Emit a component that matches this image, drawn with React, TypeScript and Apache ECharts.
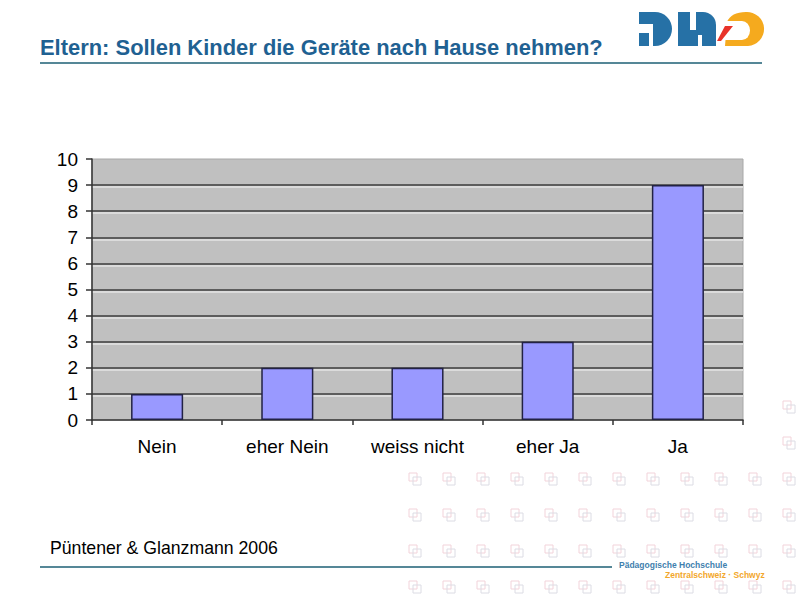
import React, { useEffect, useRef } from "react";
import * as echarts from "echarts";

const categories = ["Nein", "eher Nein", "weiss nicht", "eher Ja", "Ja"];
const values = [1, 2, 2, 3, 9];
const yMin = 0;
const yMax = 10;
const yInterval = 1;

const titleText = "Eltern: Sollen Kinder die Geräte nach Hause nehmen?";
const sourceText = "Püntener & Glanzmann 2006";
const schoolLine1 = "Pädagogische Hochschule";
const schoolLine2 = "Zentralschweiz · Schwyz";

const wmCols = [415, 449, 483, 517, 551, 585, 619, 653, 687, 721, 755, 789];
const wmRows = [408, 444, 480, 516, 552, 588];

let shapesRegistered = false;
function registerShapes() {
  if (shapesRegistered) return;
  shapesRegistered = true;
  echarts.graphic.registerShape(
    "logoP",
    echarts.graphic.extendPath("M639,12 L655,12 A17,17 0 0 1 655,46 L639,46 Z", {})
  );
  echarts.graphic.registerShape(
    "logoH",
    echarts.graphic.extendPath("M678,12 L703,12 A13,13 0 0 1 716,25 L716,46 L678,46 Z", {})
  );
  echarts.graphic.registerShape(
    "logoZ",
    echarts.graphic.extendPath("M727,22 Q731,12 746,12 A17,17 0 0 1 748,46 L725,46 Z", {})
  );
  echarts.graphic.registerShape(
    "logoZin",
    echarts.graphic.extendPath("M720,21 L742,21 A8,9.5 0 0 1 742,40 L720,40 Z", {})
  );
}

function measure(text: string, font: string): number {
  const ctx = document.createElement("canvas").getContext("2d");
  if (!ctx) return 1;
  ctx.font = font;
  return ctx.measureText(text).width || 1;
}

export default function App() {
  const ref = useRef<HTMLDivElement>(null);
  useEffect(() => {
    if (!ref.current) return;
    registerShapes();
    const chart = echarts.init(ref.current, null, { renderer: "svg" });

    const titleFont = "bold 22px 'Liberation Sans Narrow', 'Liberation Sans', Arial, sans-serif";
    const titleScale = 563 / measure(titleText, titleFont);
    const srcFont = "18px 'Liberation Sans', Arial, sans-serif";
    const srcScale = 228 / measure(sourceText, srcFont);

    const blue = "#2671a6";
    const wm: any[] = [];
    wmRows.forEach((ry, j) => {
      wmCols.forEach((cx, i) => {
        if (j < 2 && i < wmCols.length - 1) return;
        wm.push({
          type: "rect",
          shape: { x: cx - 6, y: ry - 7, width: 8, height: 8 },
          style: { fill: "none", stroke: "#f2d3da", lineWidth: 1 },
          silent: true,
          z: 0,
        });
        wm.push({
          type: "rect",
          shape: { x: cx - 2, y: ry - 3, width: 8, height: 8 },
          style: { fill: "none", stroke: "#dcdce4", lineWidth: 1 },
          silent: true,
          z: 0,
        });
      });
    });

    const labelFont = "'Liberation Sans', Arial, sans-serif";

    const option: any = {
      animation: false,
      backgroundColor: "#ffffff",
      grid: [
        {
          left: 92,
          right: 57,
          top: 159,
          bottom: 180,
          show: true,
          backgroundColor: "#c0c0c0",
          borderColor: "#a8a8a8",
          borderWidth: 1,
        },
        {
          left: 92,
          right: 57,
          top: 161,
          bottom: 178,
          show: false,
        },
      ],
      xAxis: [
        {
          type: "category",
          gridIndex: 0,
          data: categories,
          z: 3,
          axisLine: { show: true, lineStyle: { color: "#333333", width: 1.5 } },
          axisTick: { show: true, length: 5, lineStyle: { color: "#333333", width: 1.5 } },
          axisLabel: { margin: 17, color: "#000000", fontSize: 19, fontFamily: labelFont },
          splitLine: { show: false },
        },
        {
          type: "category",
          gridIndex: 1,
          data: categories,
          show: false,
        },
      ],
      yAxis: [
        {
          type: "value",
          gridIndex: 0,
          min: yMin,
          max: yMax,
          interval: yInterval,
          z: 2,
          axisLine: { show: true, lineStyle: { color: "#333333", width: 1.5 } },
          axisTick: { show: true, length: 6, lineStyle: { color: "#333333", width: 1.5 } },
          axisLabel: { margin: 14, color: "#000000", fontSize: 19, fontFamily: labelFont },
          splitLine: {
            show: true,
            showMinLine: false,
            showMaxLine: false,
            lineStyle: { color: "#3c3c3c", width: 1.5 },
          },
        },
        {
          type: "value",
          gridIndex: 1,
          min: yMin,
          max: yMax,
          interval: yInterval,
          z: 1,
          axisLine: { show: false },
          axisTick: { show: false },
          axisLabel: { show: false },
          splitLine: {
            show: true,
            showMinLine: false,
            showMaxLine: false,
            lineStyle: { color: "#e4e4e4", width: 1.5 },
          },
        },
      ],
      series: [
        {
          type: "bar",
          xAxisIndex: 0,
          yAxisIndex: 0,
          data: values,
          barWidth: "40%",
          z: 5,
          itemStyle: { color: "#9999ff", borderColor: "#222244", borderWidth: 1.5 },
          silent: true,
        },
      ],
      graphic: [
        ...wm,
        {
          type: "text",
          x: 40,
          y: 47,
          scaleX: titleScale,
          style: {
            text: titleText,
            font: titleFont,
            fill: "#1f6192",
            textVerticalAlign: "middle",
            verticalAlign: "middle",
          },
          z: 10,
        },
        {
          type: "line",
          shape: { x1: 40, y1: 63, x2: 762, y2: 63 },
          style: { stroke: "#1d5f74", lineWidth: 1.5 },
          z: 10,
        },
        { type: "logoP", style: { fill: blue }, z: 10 },
        { type: "rect", shape: { x: 638, y: 24, width: 15, height: 9 }, style: { fill: "#fff" }, z: 11 },
        { type: "rect", shape: { x: 649, y: 33, width: 4, height: 14 }, style: { fill: "#fff" }, z: 11 },
        { type: "logoH", style: { fill: blue }, z: 10 },
        { type: "rect", shape: { x: 690, y: 11, width: 6, height: 19 }, style: { fill: "#fff" }, z: 11 },
        { type: "rect", shape: { x: 698, y: 35, width: 4, height: 12 }, style: { fill: "#fff" }, z: 11 },
        { type: "logoZ", style: { fill: "#f5aa1e" }, z: 10 },
        { type: "logoZin", style: { fill: "#fff" }, z: 11 },
        {
          type: "polygon",
          shape: { points: [[725, 26], [733, 26], [721, 41], [717, 41]] },
          style: { fill: "#e8332a" },
          z: 12,
        },
        {
          type: "text",
          x: 50,
          y: 548,
          scaleX: srcScale,
          style: {
            text: sourceText,
            font: srcFont,
            fill: "#000000",
            textVerticalAlign: "middle",
            verticalAlign: "middle",
          },
          z: 10,
        },
        {
          type: "line",
          shape: { x1: 40, y1: 567, x2: 612, y2: 567 },
          style: { stroke: "#1d5f74", lineWidth: 1.5 },
          z: 10,
        },
        {
          type: "text",
          x: 619,
          y: 565,
          style: {
            text: schoolLine1,
            font: "bold 8.5px 'Liberation Sans', Arial, sans-serif",
            fill: "#3f7fae",
            textVerticalAlign: "middle",
            verticalAlign: "middle",
          },
          z: 10,
        },
        {
          type: "text",
          x: 665,
          y: 575,
          style: {
            text: schoolLine2,
            font: "bold 8.5px 'Liberation Sans', Arial, sans-serif",
            fill: "#f2a72c",
            textVerticalAlign: "middle",
            verticalAlign: "middle",
          },
          z: 10,
        },
      ],
    };
    chart.setOption(option);
    return () => chart.dispose();
  }, []);
  return (
    <div
      ref={ref}
      style={{ position: "fixed", left: 0, top: 0, width: 800, height: 600, background: "#fff" }}
    />
  );
}
